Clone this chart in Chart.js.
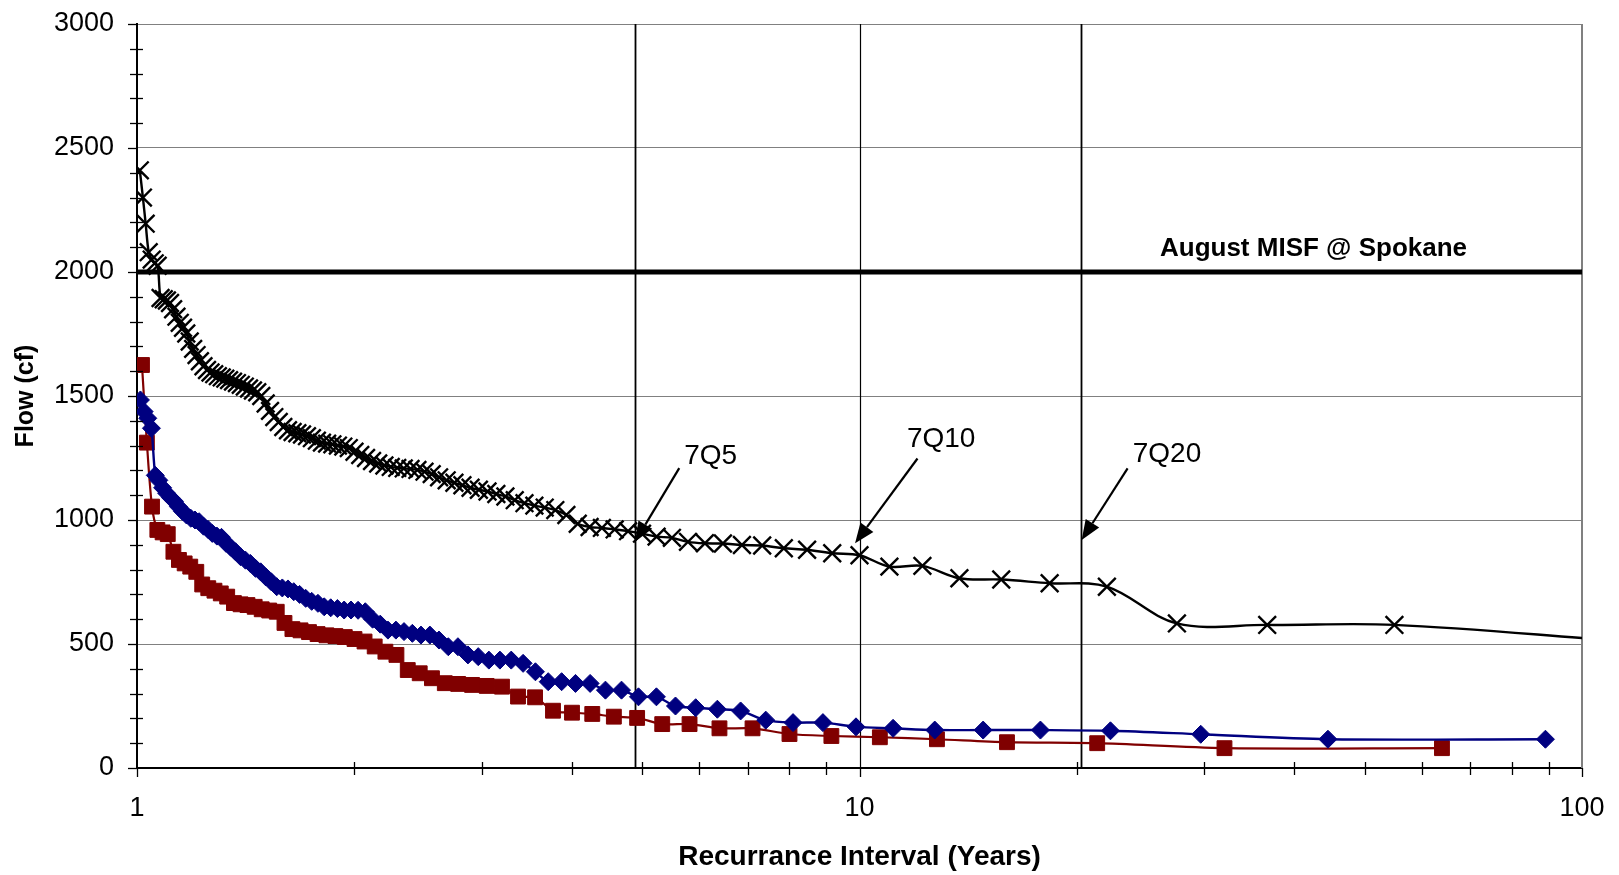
<!DOCTYPE html>
<html><head><meta charset="utf-8">
<script src="https://cdn.jsdelivr.net/npm/chart.js@4.4.1/dist/chart.umd.min.js"></script>
<style>html,body{margin:0;padding:0;background:#fff;}#c{display:block;}</style>
</head><body>
<canvas id="c" width="1619" height="875"></canvas>
<script>
// ---- data (recurrence interval in years, flow in cf) ----
const blackX = [1.009,1.019,1.028,1.038,1.048,1.058,1.068,1.078,1.089,1.1,
1.111,1.122,1.134,1.146,1.158,1.17,1.183,1.196,1.209,1.222,
1.236,1.25,1.264,1.279,1.294,1.31,1.325,1.341,1.358,1.375,
1.392,1.41,1.429,1.447,1.467,1.486,1.507,1.528,1.549,1.571,
1.594,1.618,1.642,1.667,1.692,1.719,1.746,1.774,1.803,1.833,
1.864,1.897,1.93,1.964,2.0,2.037,2.075,2.115,2.157,2.2,
2.245,2.292,2.34,2.391,2.444,2.5,2.558,2.619,2.683,2.75,
2.821,2.895,2.973,3.056,3.143,3.235,3.333,3.438,3.548,3.667,
3.793,3.929,4.074,4.231,4.4,4.583,4.783,5.0,5.238,5.5,
5.789,6.111,6.471,6.875,7.333,7.857,8.462,9.167,10,11,
12.22,13.75,15.71,18.33,22,27.5,36.67,55,110];
const blackY = [2410,2300,2195,2080,2050,2035,2025,1895,1890,1885,
1875,1850,1820,1795,1775,1752,1720,1690,1665,1640,
1620,1605,1595,1588,1580,1575,1570,1564,1558,1552,
1545,1538,1530,1522,1515,1500,1470,1440,1415,1395,
1375,1362,1355,1350,1345,1338,1330,1320,1312,1308,
1305,1300,1296,1290,1275,1262,1250,1238,1228,1220,
1214,1210,1208,1206,1202,1195,1185,1172,1160,1150,
1140,1130,1122,1115,1105,1095,1080,1068,1058,1050,
1040,1020,985,972,968,962,955,945,933,928,
912,906,905,899,897,886,880,866,858,812,
815,765,760,745,731,583,577,577,515];

const blueX = [1.011,1.023,1.035,1.047,1.06,1.072,1.085,1.099,1.113,1.127,
1.141,1.156,1.171,1.187,1.203,1.219,1.236,1.254,1.271,1.29,
1.309,1.328,1.348,1.369,1.391,1.413,1.435,1.459,1.483,1.508,
1.534,1.561,1.589,1.618,1.648,1.679,1.712,1.745,1.78,1.816,
1.854,1.894,1.935,1.978,2.023,2.07,2.119,2.171,2.225,2.282,
2.342,2.405,2.472,2.543,2.618,2.697,2.781,2.871,2.967,3.069,
3.179,3.296,3.423,3.56,3.708,3.87,4.045,4.238,4.45,4.684,
4.944,5.235,5.563,5.933,6.357,6.846,7.417,8.091,8.9,9.889,
11.13,12.71,14.83,17.8,22.25,29.67,44.5,89];
const blueY = [1484,1437,1410,1370,1180,1160,1130,1108,1090,1075,
1054,1035,1020,1007,1000,993,975,962,946,935,
930,906,890,872,852,838,825,805,791,770,
751,731,726,722,711,700,684,672,664,650,
646,643,637,637,636,630,600,580,556,556,
550,543,536,536,516,489,489,456,449,435,
435,435,422,388,348,348,341,341,314,314,
287,287,250,243,237,230,193,183,183,166,
160,153,153,153,150,136,116,116];

const redX = [1.016,1.032,1.049,1.067,1.085,1.103,1.123,1.143,1.164,1.185,
1.208,1.231,1.255,1.28,1.306,1.333,1.362,1.391,1.422,1.455,
1.488,1.524,1.561,1.6,1.641,1.684,1.73,1.778,1.829,1.882,
1.939,2.0,2.065,2.133,2.207,2.286,2.37,2.462,2.56,2.667,
2.783,2.909,3.048,3.2,3.368,3.556,3.765,4.0,4.267,4.571,
4.923,5.333,5.818,6.4,7.111,8.0,9.143,10.67,12.8,16,
21.33,32,64];
const redY = [1625,1312,1054,960,950,943,872,839,825,812,
791,740,725,715,704,691,665,660,657,650,
640,635,630,585,560,555,548,540,535,532,
528,520,510,490,469,456,395,382,362,342,
339,335,331,328,288,285,231,223,218,207,
202,177,177,160,160,137,129,124,116,104,
100,80,80];

// ---- axes / reference marks ----
const xTickLabels = ['1','10','100'];
const xMajorTicks = [1,10,100];
const xMinorTicks = [2,3,4,5,6,7,8,9,20,30,40,50,60,70,80,90];
const yMinorTicks = [100,200,300,400,600,700,800,900,1100,1200,1300,1400,1600,1700,1800,1900,2100,2200,2300,2400,2600,2700,2800,2900];
const yMajorTicks = [0,500,1000,1500,2000,2500,3000];
const refLinesX = [4.89, 10, 20.25];
const misfValue = 2000;
const misfLabel = 'August MISF @ Spokane';
const misfLabelX = 42.5, misfLabelY = 2095;
const annLabels = ['7Q5','7Q10','7Q20'];
const annLabelX = [5.72, 11.63, 23.89];
const annLabelY = [1258, 1325, 1266];
const annStartX = [5.63, 12.03, 23.5];
const annStartY = [1209, 1248, 1208];
const annTipX = [4.89, 9.86, 20.3];
const annTipY = [912, 906, 919];

const FONT = "'Liberation Sans', Arial, Helvetica, sans-serif";
Chart.defaults.font.family = FONT;
Chart.defaults.color = '#000';

const pts = (xs, ys) => xs.map((x, i) => ({x: x, y: ys[i]}));

function seg(ctx, x1, y1, x2, y2) { ctx.beginPath(); ctx.moveTo(x1, y1); ctx.lineTo(x2, y2); ctx.stroke(); }

const overlay = {
  id: 'overlay',
  beforeDatasetsDraw(chart) {
    const {ctx, chartArea: a, scales: {x, y}} = chart;
    ctx.save();
    ctx.lineCap = 'butt';
    ctx.strokeStyle = '#808080'; ctx.lineWidth = 2;
    seg(ctx, a.right, a.top, a.right, a.bottom);
    ctx.strokeStyle = '#000';
    refLinesX.forEach((v, i) => {
      const px = Math.round(x.getPixelForValue(v)) + 0.5;
      ctx.lineWidth = (i === 1) ? 1.2 : 1.8;
      seg(ctx, px, a.top, px, a.bottom);
    });
    ctx.lineWidth = 5;
    const py = y.getPixelForValue(misfValue);
    seg(ctx, a.left, py, a.right, py);
    ctx.restore();
  },
  afterDatasetsDraw(chart) {
    const {ctx, chartArea: a, scales: {x, y}} = chart;
    ctx.save();
    ctx.strokeStyle = '#000'; ctx.fillStyle = '#000'; ctx.lineWidth = 1.3;
    yMinorTicks.forEach(v => { const p = Math.round(y.getPixelForValue(v)) + 0.5; seg(ctx, a.left - 7, p, a.left + 6, p); });
    yMajorTicks.forEach(v => { const p = Math.round(y.getPixelForValue(v)) + 0.5; seg(ctx, a.left - 9, p, a.left, p); });
    xMinorTicks.forEach(v => { const p = Math.round(x.getPixelForValue(v)) + 0.5; seg(ctx, p, a.bottom - 6, p, a.bottom + 7); });
    xMajorTicks.forEach(v => { const p = Math.round(x.getPixelForValue(v)) + 0.5; seg(ctx, p, a.bottom, p, a.bottom + 9); });
    ctx.font = 'bold 26px ' + FONT;
    ctx.textAlign = 'center'; ctx.textBaseline = 'middle';
    ctx.fillText(misfLabel, x.getPixelForValue(misfLabelX), y.getPixelForValue(misfLabelY));
    ctx.font = '28px ' + FONT;
    ctx.textAlign = 'left';
    annLabels.forEach((t, i) => {
      ctx.fillText(t, x.getPixelForValue(annLabelX[i]), y.getPixelForValue(annLabelY[i]));
      const sx = x.getPixelForValue(annStartX[i]), sy = y.getPixelForValue(annStartY[i]);
      const tx = x.getPixelForValue(annTipX[i]), ty = y.getPixelForValue(annTipY[i]);
      const ang = Math.atan2(ty - sy, tx - sx);
      const hl = 20, hw = 8;
      const bx = tx - hl * Math.cos(ang), by = ty - hl * Math.sin(ang);
      ctx.lineWidth = 2.2;
      seg(ctx, sx, sy, bx, by);
      ctx.beginPath();
      ctx.moveTo(tx, ty);
      ctx.lineTo(bx + hw * Math.sin(ang), by - hw * Math.cos(ang));
      ctx.lineTo(bx - hw * Math.sin(ang), by + hw * Math.cos(ang));
      ctx.closePath(); ctx.fill();
    });
    ctx.restore();
  }
};

new Chart(document.getElementById('c').getContext('2d'), {
  type: 'line',
  data: {
    datasets: [
      {label: 'Series 1', data: pts(blackX, blackY), borderColor: '#000', borderWidth: 2.4,
       pointStyle: 'crossRot', pointRadius: 12.5, pointBorderColor: '#000', pointBackgroundColor: '#000',
       pointBorderWidth: 2.4, tension: 0.35, fill: false},
      {label: 'Series 2', data: pts(blueX, blueY), borderColor: '#000080', borderWidth: 2.4,
       pointStyle: 'rectRot', pointRadius: 9, pointBorderColor: '#000080', pointBackgroundColor: '#000080',
       pointBorderWidth: 1, tension: 0.3, fill: false},
      {label: 'Series 3', data: pts(redX, redY), borderColor: '#800000', borderWidth: 2.2,
       pointStyle: 'rect', pointRadius: 10.5, pointBorderColor: '#800000', pointBackgroundColor: '#800000',
       pointBorderWidth: 1, tension: 0.3, fill: false}
    ]
  },
  options: {
    responsive: false, animation: false, devicePixelRatio: 1,
    layout: {padding: {top: 24, right: 37, left: 0, bottom: 0}},
    plugins: {legend: {display: false}, tooltip: {enabled: false}},
    scales: {
      x: {
        type: 'logarithmic', min: 1, max: 100,
        afterFit: s => { s.height = 107; },
        grid: {display: true, drawOnChartArea: false, drawTicks: true, tickLength: 24,
               color: 'rgba(0,0,0,0)', tickColor: 'rgba(0,0,0,0)'},
        border: {display: true, color: '#000', width: 2},
        ticks: {autoSkip: false, maxRotation: 0, minRotation: 0, padding: 0, color: '#000', font: {size: 27},
                callback: v => xTickLabels.includes(String(v)) ? String(v) : ''},
        title: {display: true, text: 'Recurrance Interval (Years)', color: '#000',
                font: {size: 28, weight: 'bold'}, padding: {top: 0, bottom: 1}}
      },
      y: {
        min: 0, max: 3000,
        afterFit: s => { s.width = 137; },
        grid: {color: '#808080', lineWidth: 1, drawTicks: true, tickLength: 23, tickColor: 'rgba(0,0,0,0)'},
        border: {display: true, color: '#000', width: 2},
        ticks: {stepSize: 500, padding: 0, color: '#000', font: {size: 27}, callback: v => String(v)},
        title: {display: true, text: 'Flow (cf)', color: '#000',
                font: {size: 25, weight: 'bold'}, padding: {top: 11, bottom: 0}}
      }
    }
  },
  plugins: [overlay]
});
</script>
</body></html>
